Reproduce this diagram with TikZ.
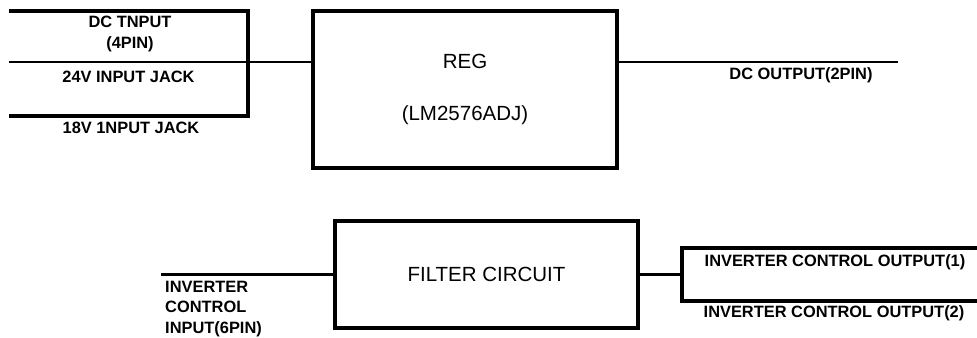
\documentclass[tikz,border=0pt]{standalone}
\usepackage{fontspec}
\setmainfont{Liberation Sans}
\usetikzlibrary{positioning}

\begin{document}
\begin{tikzpicture}[
    x=0.03cm, y=-0.03cm,
    block/.style={draw, line width=2.8pt, font=\fontsize{17.5}{20}\selectfont, align=center, inner sep=0pt},
    wire/.style={line width=2pt},
    bus/.style={line width=2.8pt},
    tag/.style={font=\bfseries\fontsize{14}{18.7}\selectfont, inner sep=0pt, align=center}
]
    \useasboundingbox (0,0) rectangle (977,338);

    % power path
    \node[block, minimum width=9.12cm, minimum height=4.71cm] (reg) at (465,89.5) {REG\\[24pt](LM2576ADJ)};
    \coordinate (inTop) at (9,11);
    \coordinate (inMid) at (9,62);
    \coordinate (inBot) at (9,116);
    \coordinate (jTop) at (248,11);
    \coordinate (jBot) at (248,116);
    \coordinate (dcOut) at (898,62);
    \draw[bus] (inTop) -- (jTop) -- (jBot) -- (inBot);
    \draw[wire] (inMid) -- (inMid -| reg.west);
    \draw[wire] (reg.east |- dcOut) -- (dcOut);

    \node[tag] (dcIn) at (130,34) {DC TNPUT\\(4PIN)};
    \node[tag] (jack24) at (128.5,77) {24V INPUT JACK};
    \node[tag] (jack18) at (131,128) {18V 1NPUT JACK};
    \node[tag] (dcOutTxt) at (801,75) {DC OUTPUT(2PIN)};

    % inverter control path
    \node[block, minimum width=9.09cm, minimum height=3.21cm] (filt) at (486.5,274.5) {FILTER CIRCUIT};
    \coordinate (ctlIn) at (161,274.5);
    \coordinate (split) at (682,274.5);
    \coordinate (outTop) at (977,248);
    \coordinate (outBot) at (977,301);
    \draw[bus] (ctlIn) -- (filt.west);
    \draw[bus] (filt.east) -- (split);
    \draw[bus] (outTop) -- (outTop -| split) -- (outBot -| split) -- (outBot);

    \node[tag, anchor=north west, align=left, font=\bfseries\fontsize{14}{17.4}\selectfont] (ctlInTxt) at (165,281) {INVERTER\\CONTROL\\INPUT(6PIN)};
    \node[tag] (out1) at (835,262) {INVERTER CONTROL OUTPUT(1)};
    \node[tag] (out2) at (834,313) {INVERTER CONTROL OUTPUT(2)};
\end{tikzpicture}
\end{document}
